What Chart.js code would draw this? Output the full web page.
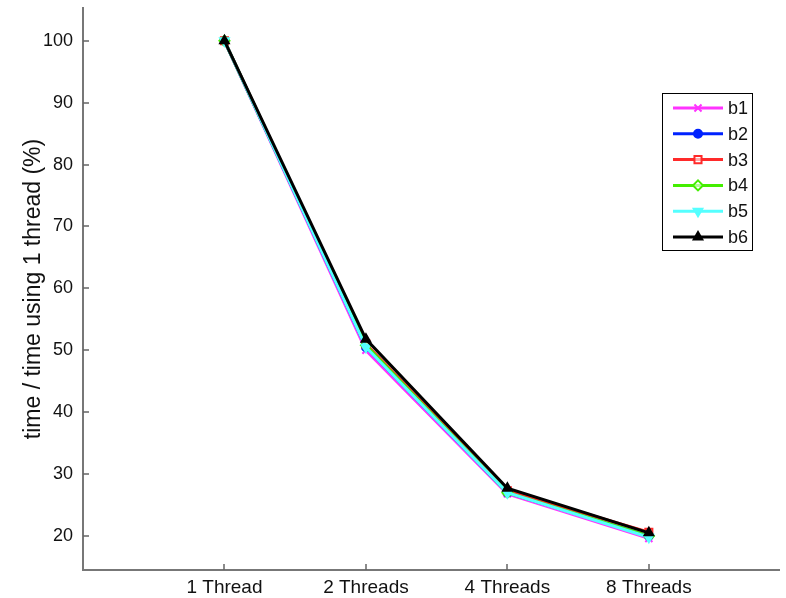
<!DOCTYPE html>
<html>
<head>
<meta charset="utf-8">
<script src="https://cdn.jsdelivr.net/npm/chart.js@4.4.1/dist/chart.umd.min.js"></script>
<style>
  html, body { margin: 0; padding: 0; background: #fff; }
  #wrap { width: 786px; height: 598px; }
</style>
</head>
<body>
<div id="wrap"><canvas id="c"></canvas></div>
<script>
// ---- data ----
const categories = ["1 Thread", "2 Threads", "4 Threads", "8 Threads"];
const yTicks = [20, 30, 40, 50, 60, 70, 80, 90, 100];
const b1 = [100, 50.0, 26.8, 19.6];
const b2 = [100, 50.5, 27.0, 20.0];
const b3 = [100, 51.0, 27.3, 20.6];
const b4 = [100, 50.8, 27.0, 20.0];
const b5 = [100, 50.5, 27.0, 19.8];
const b6 = [100, 51.8, 27.7, 20.5];

const FONT = "'Liberation Sans', Arial, Helvetica, sans-serif";

function series(label, vals, color, style, fill, idx, rot, r) {
  return {
    label: label,
    data: vals.map((v, i) => ({ x: i, y: v })),
    order: 10 - idx,           // later series drawn on top
    borderColor: color,
    backgroundColor: color,
    borderWidth: 3,
    pointStyle: style,
    pointRotation: rot || 0,
    pointRadius: r || 5,
    pointBorderWidth: 2,
    pointBackgroundColor: fill,
    pointBorderColor: color,
    tension: 0
  };
}

const datasets = [
  series("b1", b1, "#ff33ff", "crossRot", "#ff33ff", 0),
  series("b2", b2, "#0022ff", "circle", "#0022ff", 1, 0, 4),
  series("b3", b3, "#ff2a2a", "rect", "rgba(255,255,255,0.6)", 2),
  series("b4", b4, "#44ee00", "rectRot", "rgba(255,255,255,0.6)", 3),
  series("b5", b5, "#55ffff", "triangle", "#55ffff", 4, 180),
  series("b6", b6, "#000000", "triangle", "#000000", 5)
];

// inward tick marks like the original plot
const inTicks = {
  id: "inTicks",
  afterDraw(chart) {
    const ctx = chart.ctx, x = chart.scales.x, y = chart.scales.y;
    ctx.save();
    ctx.strokeStyle = "#666";
    ctx.lineWidth = 1.5;
    ctx.beginPath();
    y.ticks.forEach(t => {
      const p = Math.round(y.getPixelForValue(t.value));
      ctx.moveTo(x.left, p); ctx.lineTo(x.left + 6, p);
    });
    x.ticks.forEach(t => {
      const p = Math.round(x.getPixelForValue(t.value));
      ctx.moveTo(p, y.bottom); ctx.lineTo(p, y.bottom - 6);
    });
    ctx.stroke();
    ctx.restore();
  }
};

// boxed legend inside the plot, top right
const boxLegend = {
  id: "boxLegend",
  afterDraw(chart) {
    const ctx = chart.ctx;
    const bx = 662, by = 93, bw = 90, bh = 157, row = 25.8;
    ctx.save();
    ctx.fillStyle = "#fff";
    ctx.fillRect(bx, by, bw, bh);
    ctx.strokeStyle = "#000";
    ctx.lineWidth = 1;
    ctx.strokeRect(bx + 0.5, by + 0.5, bw, bh);
    chart.data.datasets.forEach((ds, i) => {
      const cy = by + 15 + i * row;
      ctx.strokeStyle = ds.borderColor;
      ctx.lineWidth = 3;
      ctx.beginPath();
      ctx.moveTo(bx + 11, cy); ctx.lineTo(bx + 61, cy);
      ctx.stroke();
      ctx.fillStyle = ds.pointBackgroundColor;
      ctx.strokeStyle = ds.pointBorderColor;
      ctx.lineWidth = 2;
      Chart.helpers.drawPoint(ctx, {
        pointStyle: ds.pointStyle, rotation: ds.pointRotation,
        radius: ds.pointRadius, borderWidth: 2
      }, bx + 36, cy);
      ctx.fillStyle = "#111";
      ctx.font = "18px " + FONT;
      ctx.textBaseline = "middle";
      ctx.fillText(ds.label, bx + 66, cy + 1);
    });
    ctx.restore();
  }
};

new Chart(document.getElementById("c"), {
  type: "line",
  data: { datasets: datasets },
  plugins: [inTicks, boxLegend],
  options: {
    responsive: true,
    maintainAspectRatio: false,
    animation: false,
    layout: { padding: 0 },
    plugins: { legend: { display: false }, tooltip: { enabled: false } },
    scales: {
      x: {
        type: "linear",
        min: -1,
        max: 3.92,
        afterBuildTicks: s => { s.ticks = categories.map((c, i) => ({ value: i })); },
        afterFit: s => { s.height = 28; s.paddingLeft = 0; s.paddingRight = 0; },
        grid: { display: false, drawTicks: false },
        border: { display: true, color: "#777", width: 2 },
        ticks: {
          padding: 6,
          color: "#111",
          font: { family: FONT, size: 19 },
          callback: v => categories[v]
        }
      },
      y: {
        min: 14.5,
        max: 105.3,
        afterBuildTicks: s => { s.ticks = yTicks.map(v => ({ value: v })); },
        afterFit: s => { s.width = 83; s.paddingTop = 8; s.paddingBottom = 0; },
        grid: { display: false, drawTicks: false },
        border: { display: true, color: "#777", width: 2 },
        ticks: {
          padding: 10,
          color: "#111",
          font: { family: FONT, size: 18 }
        },
        title: {
          display: true,
          text: "time / time using 1 thread (%)",
          color: "#111",
          font: { family: FONT, size: 23 },
          padding: { top: 20, bottom: 0 }
        }
      }
    }
  }
});
</script>
</body>
</html>
